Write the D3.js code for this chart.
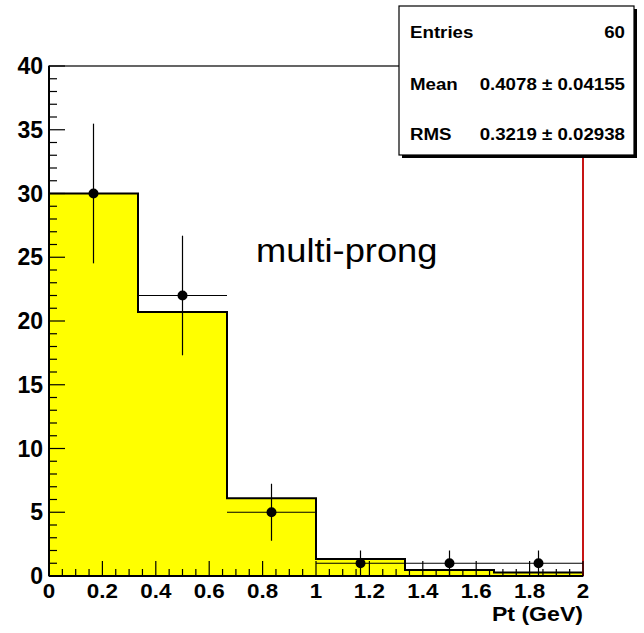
<!DOCTYPE html>
<html>
<head>
<meta charset="utf-8">
<script src="https://cdn.jsdelivr.net/npm/d3@7"></script>
<style>
  html, body { margin: 0; padding: 0; background: #fff; }
  svg { display: block; }
  text { font-family: "Liberation Sans", Arial, sans-serif; }
</style>
</head>
<body>
<svg id="chart" width="644" height="633"></svg>
<script>
// Bin edges of the Pt histogram (GeV)
const binEdges = [0, 1/3, 2/3, 1, 4/3, 5/3, 2];
// Filled histogram contents per bin
const histValues = [30, 20.7, 6.1, 1.33, 0.47, 0.27];
// Data point counts per bin (errors are sqrt(N))
const dataCounts = [30, 22, 5, 1, 1, 1];
// Axis tick values
const xTicks = [0, 0.2, 0.4, 0.6, 0.8, 1, 1.2, 1.4, 1.6, 1.8, 2];
const yTicks = [0, 5, 10, 15, 20, 25, 30, 35, 40];
// Statistics box rows
const statLabels = ["Entries", "Mean", "RMS"];
const statValues = ["60", "0.4078 \u00b1 0.04155", "0.3219 \u00b1 0.02938"];

const svg = d3.select("#chart");
const plotL = 49, plotR = 583, plotT = 66, plotB = 576;

const x = d3.scaleLinear().domain([0, 2]).range([plotL, plotR]);
const y = d3.scaleLinear().domain([0, 40]).range([plotB, plotT]);

// Helper: text placed at (tx, ty) with a slight horizontal widening
function wideText(g, tx, ty, sx) {
  return g.append("text").attr("transform", `translate(${tx},${ty}) scale(${sx},1)`);
}

// Frame
svg.append("rect")
  .attr("x", plotL).attr("y", plotT)
  .attr("width", plotR - plotL).attr("height", plotB - plotT)
  .attr("fill", "#fff").attr("stroke", "#000").attr("stroke-width", 1.2);

// Histogram bins (yellow fill)
const bins = histValues.map((v, i) => ({ x0: binEdges[i], x1: binEdges[i + 1], v }));
svg.append("g").selectAll("rect").data(bins).join("rect")
  .attr("x", d => x(d.x0))
  .attr("y", d => y(d.v))
  .attr("width", d => x(d.x1) - x(d.x0))
  .attr("height", d => y(0) - y(d.v))
  .attr("fill", "#ffff00");

// Histogram step outline
const stepPts = [[binEdges[0], 0]];
bins.forEach(b => { stepPts.push([b.x0, b.v]); stepPts.push([b.x1, b.v]); });
stepPts.push([binEdges[binEdges.length - 1], 0]);
svg.append("path")
  .attr("d", d3.line().x(d => x(d[0])).y(d => y(d[1]))(stepPts))
  .attr("fill", "none").attr("stroke", "#000").attr("stroke-width", 2);

// Right frame edge drawn in red
svg.append("line")
  .attr("x1", plotR).attr("x2", plotR).attr("y1", plotT).attr("y2", plotB)
  .attr("stroke", "#e00000").attr("stroke-width", 1.6);

// Y axis with inward ticks
const yAxisG = svg.append("g");
const yMinor = d3.range(0, 41, 1);
yAxisG.selectAll("line.minor").data(yMinor).join("line")
  .attr("x1", plotL).attr("x2", d => plotL + (d % 5 === 0 ? 16 : 8))
  .attr("y1", d => y(d)).attr("y2", d => y(d))
  .attr("stroke", "#000").attr("stroke-width", 1.2);
yAxisG.append("line")
  .attr("x1", plotL).attr("x2", plotL).attr("y1", plotT).attr("y2", plotB)
  .attr("stroke", "#000").attr("stroke-width", 2);
yAxisG.selectAll("text").data(yTicks).join("text")
  .attr("x", plotL - 6).attr("y", d => y(d) + 8)
  .attr("text-anchor", "end")
  .attr("font-size", 23).attr("font-weight", "bold")
  .text(d => d);

// X axis with inward ticks
const xAxisG = svg.append("g");
const xMinor = d3.range(0, 41).map(i => i * 0.05);
xAxisG.selectAll("line.minor").data(xMinor).join("line")
  .attr("x1", d => x(d)).attr("x2", d => x(d))
  .attr("y1", plotB).attr("y2", (d, i) => plotB - (i % 4 === 0 ? 15 : 7))
  .attr("stroke", "#000").attr("stroke-width", 1.2);
xAxisG.append("line")
  .attr("x1", plotL).attr("x2", plotR).attr("y1", plotB).attr("y2", plotB)
  .attr("stroke", "#000").attr("stroke-width", 2);
xTicks.forEach(t => {
  wideText(xAxisG, x(t), 598, 1.12)
    .attr("text-anchor", "middle")
    .attr("font-size", 20).attr("font-weight", "bold")
    .text(t);
});

wideText(svg, plotR, 621, 1.1)
  .attr("text-anchor", "end")
  .attr("font-size", 21).attr("font-weight", "bold")
  .text("Pt (GeV)");

// Data points with sqrt(N) error bars
const points = dataCounts.map((n, i) => ({
  x0: binEdges[i], x1: binEdges[i + 1], xc: (binEdges[i] + binEdges[i + 1]) / 2,
  n, err: Math.sqrt(n)
}));
const pg = svg.append("g");
pg.selectAll("line.h").data(points).join("line")
  .attr("x1", d => x(d.x0)).attr("x2", d => x(d.x1))
  .attr("y1", d => y(d.n)).attr("y2", d => y(d.n))
  .attr("stroke", "#000").attr("stroke-width", 1.2);
pg.selectAll("line.v").data(points).join("line")
  .attr("x1", d => x(d.xc)).attr("x2", d => x(d.xc))
  .attr("y1", d => y(Math.max(0, d.n - d.err))).attr("y2", d => y(d.n + d.err))
  .attr("stroke", "#000").attr("stroke-width", 1.2);
pg.selectAll("circle").data(points).join("circle")
  .attr("cx", d => x(d.xc)).attr("cy", d => y(d.n))
  .attr("r", 5).attr("fill", "#000");

// Label
wideText(svg, 256, 262, 1.1)
  .attr("font-size", 33)
  .text("multi-prong");

// Statistics box with shadow
const bx = 399, by = 6, bw = 235, bh = 149;
svg.append("rect").attr("x", bx + 3).attr("y", by + 3).attr("width", bw).attr("height", bh).attr("fill", "#000");
svg.append("rect").attr("x", bx).attr("y", by).attr("width", bw).attr("height", bh)
  .attr("fill", "#fff").attr("stroke", "#000").attr("stroke-width", 1.2);
const rowY = [38, 90, 140];
statLabels.forEach((s, i) => {
  wideText(svg, bx + 11, rowY[i], 1.1)
    .attr("font-size", 17).attr("font-weight", "bold")
    .text(s);
});
statValues.forEach((s, i) => {
  wideText(svg, bx + bw - 9, rowY[i], 1.1)
    .attr("text-anchor", "end")
    .attr("font-size", 17).attr("font-weight", "bold")
    .text(s);
});
</script>
</body>
</html>
